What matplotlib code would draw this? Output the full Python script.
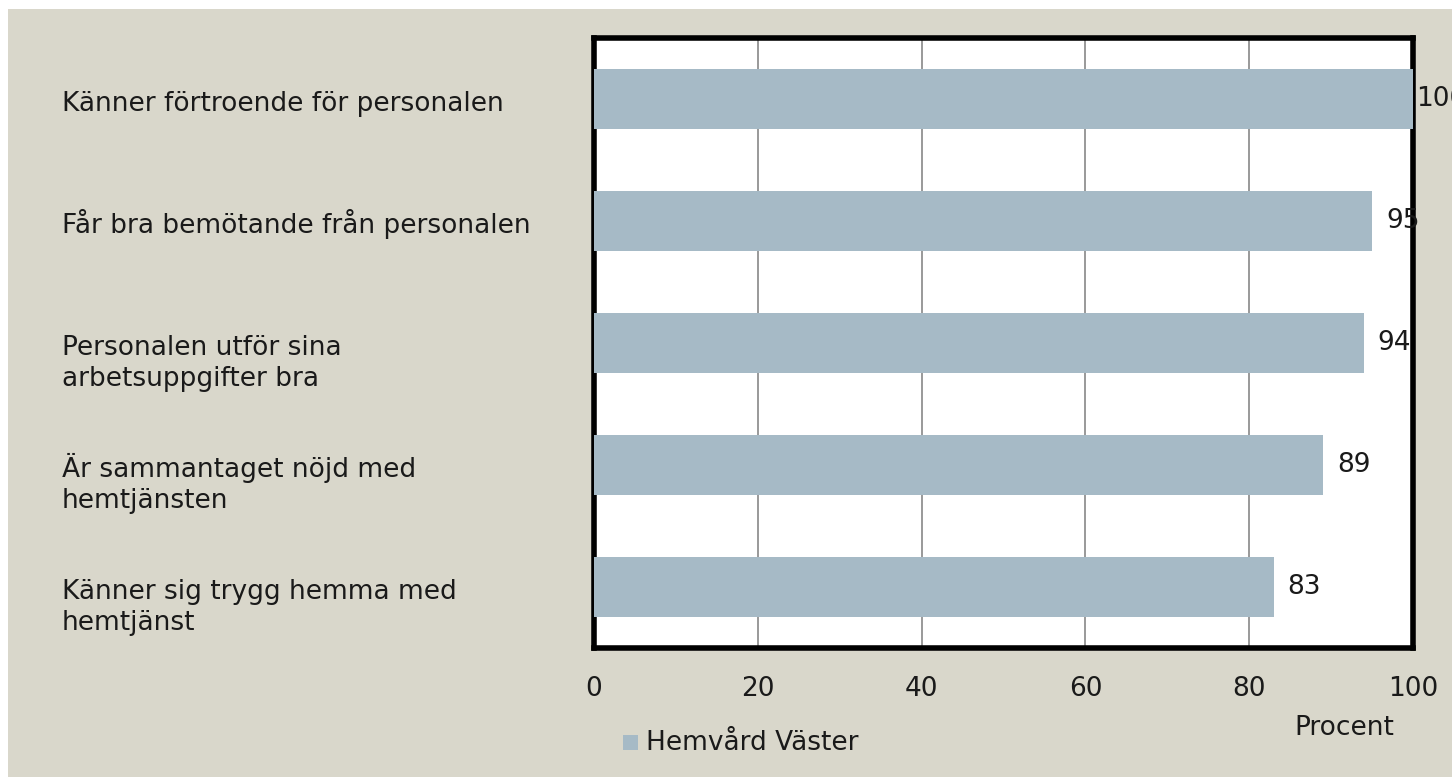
import matplotlib
matplotlib.use("Agg")
import matplotlib.pyplot as plt
from matplotlib.patches import Rectangle

categories = [
    "Känner förtroende för personalen",
    "Får bra bemötande från personalen",
    "Personalen utför sina\narbetsuppgifter bra",
    "Är sammantaget nöjd med\nhemtjänsten",
    "Känner sig trygg hemma med\nhemtjänst",
]
values = [100, 95, 94, 89, 83]
series_name = "Hemvård Väster"
xticks = [0, 20, 40, 60, 80, 100]
xlabel = "Procent"

plt.rcParams['font.family'] = ['DejaVu Sans']
FS = 19
TXT = '#1a1a1a'
W, H = 1452, 777
fig = plt.figure(figsize=(W/100, H/100), dpi=100)
fig.patch.set_facecolor('white')
bg = Rectangle((8/W, 0), 1 - 8/W, 1 - 9/H, transform=fig.transFigure,
               facecolor='#d9d7cb', edgecolor='none', zorder=-10)
fig.patches.append(bg)

ax = fig.add_axes([594/W, 1 - 648/H, (1413-594)/W, (648-38)/H])
ax.set_facecolor('white')
ypos = list(range(len(categories)))
bar_color = '#a6bac6'
ax.barh(ypos, values, height=0.49, color=bar_color, zorder=3)
ax.set_ylim(len(categories) - 0.5, -0.5)
ax.set_xlim(0, 100)
ax.set_xticks(xticks)
ax.set_xticklabels([str(t) for t in xticks], fontsize=FS, color=TXT)
ax.tick_params(axis='x', length=0, pad=20)
ax.set_yticks([])
ax.grid(axis='x', color='#888888', linewidth=1.2, zorder=0)
for s in ax.spines.values():
    s.set_linewidth(4)
    s.set_color('black')

for y, v in zip(ypos, values):
    off = 2 if v >= 100 else 10
    ax.annotate(str(v), (v, y), xytext=(off, 0), textcoords='offset points',
                va='center', ha='left', fontsize=FS, color=TXT,
                annotation_clip=False)

for y, c in zip(ypos, categories):
    nlines = c.count("\n") + 1
    yoff = -8.6 - (nlines - 1) * 22.5
    ax.annotate(c, xy=(0, y), xycoords=('axes fraction', 'data'),
                xytext=(62/W, yoff), textcoords=('figure fraction', 'offset points'),
                va='baseline', ha='left', fontsize=FS, color=TXT,
                linespacing=1.25, annotation_clip=False)

fig.text(1344/W, 1 - 728/H, xlabel, ha='center', va='center', fontsize=FS, color=TXT)
fig.patches.append(Rectangle((623/W, 1 - 750/H), 15/W, 15/H, transform=fig.transFigure,
                             facecolor=bar_color, edgecolor='none'))
fig.text(646/W, 1 - 743/H, series_name, ha='left', va='center', fontsize=FS, color=TXT)

fig.savefig('out.png', dpi=100, facecolor=fig.get_facecolor())
